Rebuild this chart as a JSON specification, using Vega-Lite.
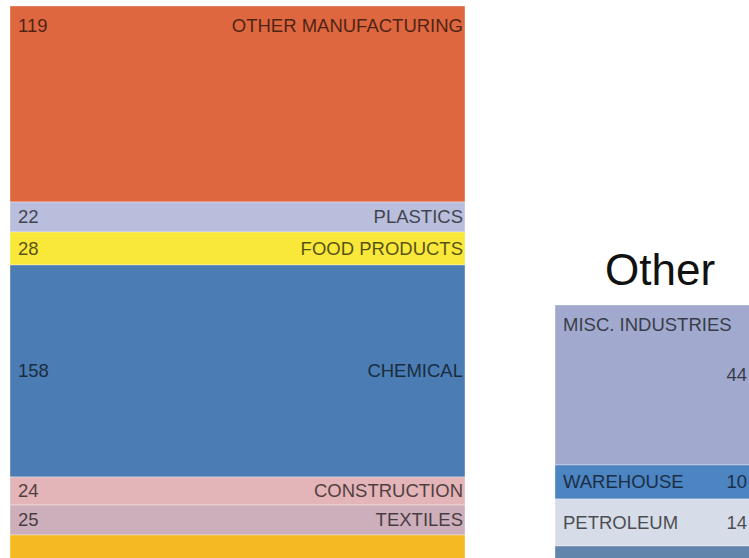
{
  "$schema": "https://vega.github.io/schema/vega-lite/v6.json",
  "width": 749,
  "height": 558,
  "autosize": {"type": "fit", "contains": "padding"},
  "padding": 0,
  "background": "#ffffff",
  "config": {"view": {"stroke": null}, "font": "Liberation Sans"},
  "data": {
    "values": [
      {"column": "Manufacturing", "order": 7, "key": "OTHER MANUFACTURING", "name": "OTHER MANUFACTURING", "value": 119, "size": 196},
      {"column": "Manufacturing", "order": 6, "key": "PLASTICS", "name": "PLASTICS", "value": 22, "size": 30},
      {"column": "Manufacturing", "order": 5, "key": "FOOD PRODUCTS", "name": "FOOD PRODUCTS", "value": 28, "size": 33},
      {"column": "Manufacturing", "order": 4, "key": "CHEMICAL", "name": "CHEMICAL", "value": 158, "size": 212},
      {"column": "Manufacturing", "order": 3, "key": "CONSTRUCTION", "name": "CONSTRUCTION", "value": 24, "size": 28},
      {"column": "Manufacturing", "order": 2, "key": "TEXTILES", "name": "TEXTILES", "value": 25, "size": 30},
      {"column": "Manufacturing", "order": 1, "key": "unlabeled-1", "name": "", "value": null, "size": 30},
      {"column": "Other", "order": 4, "key": "MISC. INDUSTRIES", "name": "MISC. INDUSTRIES", "value": 44, "size": 160},
      {"column": "Other", "order": 3, "key": "WAREHOUSE", "name": "WAREHOUSE", "value": 10, "size": 34},
      {"column": "Other", "order": 2, "key": "PETROLEUM", "name": "PETROLEUM", "value": 14, "size": 47},
      {"column": "Other", "order": 1, "key": "unlabeled-2", "name": "", "value": null, "size": 19}
    ]
  },
  "transform": [
    {"stack": "size", "groupby": ["column"], "sort": [{"field": "order", "order": "ascending"}], "as": ["y0", "y1"]},
    {"joinaggregate": [{"op": "max", "field": "order", "as": "topOrder"}], "groupby": ["column"]},
    {"calculate": "(datum.y0 + datum.y1) / 2", "as": "mid"},
    {"calculate": "datum.order === datum.topOrder", "as": "isTop"},
    {"calculate": "datum.isTop ? datum.y1 - 19.5 : datum.mid", "as": "nameY"},
    {"calculate": "datum.isTop ? (datum.column === 'Other' ? datum.mid + 10 : datum.y1 - 19.5) : datum.mid", "as": "numY"}
  ],
  "layer": [
    {
      "mark": {"type": "bar", "clip": true, "stroke": "#ffffff", "strokeOpacity": 0.35, "strokeWidth": 1},
      "encoding": {
        "x": {"field": "column", "type": "nominal", "axis": null, "scale": {"domain": ["Manufacturing", "Other"], "range": [10, 1010], "paddingInner": 0.16514, "paddingOuter": 0}},
        "y": {"field": "y0", "type": "quantitative", "axis": null, "scale": {"domain": [7, 565], "nice": false, "zero": false}},
        "y2": {"field": "y1"},
        "color": {
          "field": "key", "type": "nominal", "legend": null,
          "scale": {
            "domain": ["OTHER MANUFACTURING", "PLASTICS", "FOOD PRODUCTS", "CHEMICAL", "CONSTRUCTION", "TEXTILES", "unlabeled-1", "MISC. INDUSTRIES", "WAREHOUSE", "PETROLEUM", "unlabeled-2"],
            "range": ["#DF6740", "#B9BEDC", "#F9E83A", "#4B7DB4", "#E3B4B8", "#CDAFBB", "#F5B921", "#A1AACE", "#4D84C2", "#D6DCE8", "#6285AC"]
          }
        }
      }
    },
    {
      "transform": [{"filter": "datum.column === 'Manufacturing' && datum.name !== ''"}],
      "mark": {"type": "text", "clip": true, "align": "left", "baseline": "middle", "dx": 8, "fontSize": 18.5, "fill": "#000000", "opacity": 0.65},
      "encoding": {
        "x": {"field": "column", "type": "nominal", "bandPosition": 0, "axis": null},
        "y": {"field": "numY", "type": "quantitative"},
        "text": {"field": "value", "type": "quantitative"}
      }
    },
    {
      "transform": [{"filter": "datum.column === 'Manufacturing' && datum.name !== ''"}],
      "mark": {"type": "text", "clip": true, "align": "right", "baseline": "middle", "dx": -2, "fontSize": 18.5, "fill": "#000000", "opacity": 0.65},
      "encoding": {
        "x": {"field": "column", "type": "nominal", "bandPosition": 1, "axis": null},
        "y": {"field": "nameY", "type": "quantitative"},
        "text": {"field": "name", "type": "nominal"}
      }
    },
    {
      "transform": [{"filter": "datum.column === 'Other' && datum.name !== ''"}],
      "mark": {"type": "text", "clip": true, "align": "left", "baseline": "middle", "dx": 8, "fontSize": 18.5, "fill": "#000000", "opacity": 0.65},
      "encoding": {
        "x": {"field": "column", "type": "nominal", "bandPosition": 0, "axis": null},
        "y": {"field": "nameY", "type": "quantitative"},
        "text": {"field": "name", "type": "nominal"}
      }
    },
    {
      "transform": [{"filter": "datum.column === 'Other' && datum.name !== ''"}],
      "mark": {"type": "text", "clip": true, "align": "right", "baseline": "middle", "dx": 192, "fontSize": 18.5, "fill": "#000000", "opacity": 0.65},
      "encoding": {
        "x": {"field": "column", "type": "nominal", "bandPosition": 0, "axis": null},
        "y": {"field": "numY", "type": "quantitative"},
        "text": {"field": "value", "type": "quantitative"}
      }
    },
    {
      "transform": [{"filter": "datum.column === 'Other' && datum.isTop"}, {"calculate": "datum.y1 + 20", "as": "titleY"}],
      "mark": {"type": "text", "clip": true, "align": "center", "baseline": "alphabetic", "dx": 105, "fontSize": 44, "fill": "#111111"},
      "encoding": {
        "x": {"field": "column", "type": "nominal", "bandPosition": 0, "axis": null},
        "y": {"field": "titleY", "type": "quantitative"},
        "text": {"field": "column", "type": "nominal"}
      }
    }
  ]
}
